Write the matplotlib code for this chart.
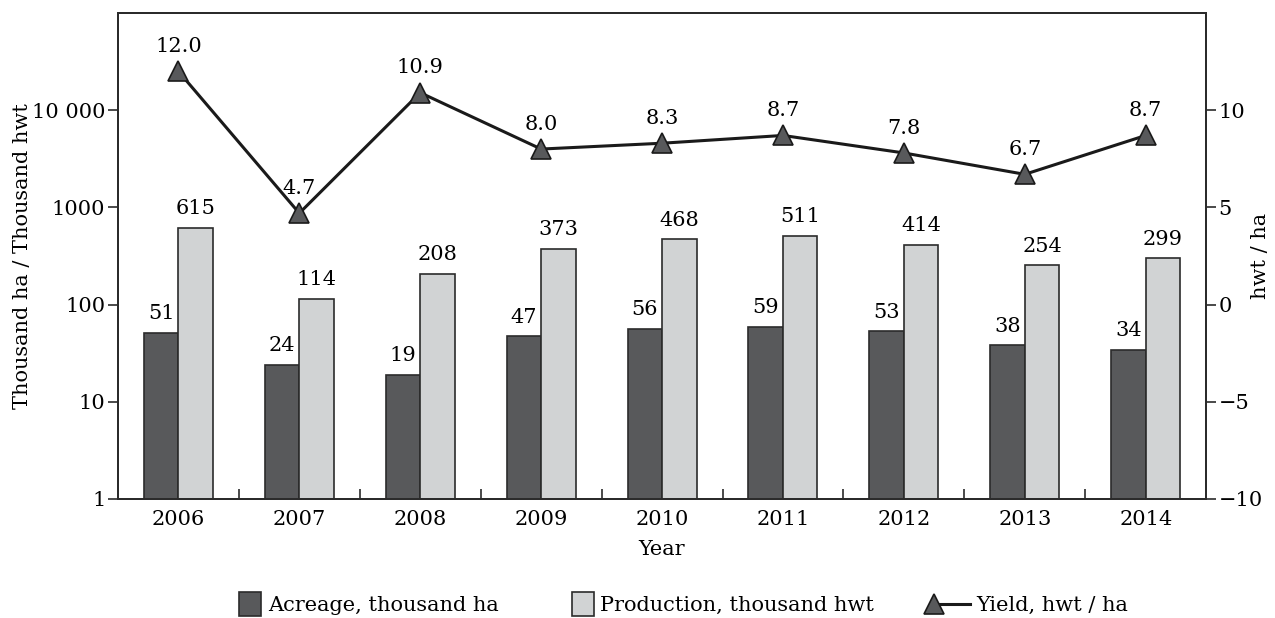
import numpy as np
import matplotlib
matplotlib.use("Agg")
from matplotlib import pyplot as plt
from matplotlib.ticker import FixedLocator, NullLocator, FuncFormatter
from matplotlib.legend_handler import HandlerBase
from matplotlib.lines import Line2D
from matplotlib.patches import Rectangle

years = ["2006", "2007", "2008", "2009", "2010", "2011", "2012", "2013", "2014"]
acreage = [51, 24, 19, 47, 56, 59, 53, 38, 34]
production = [615, 114, 208, 373, 468, 511, 414, 254, 299]
yield_vals = [12.0, 4.7, 10.9, 8.0, 8.3, 8.7, 7.8, 6.7, 8.7]

plt.rcParams["font.family"] = ["DejaVu Serif"]
plt.rcParams["font.size"] = 15

dark = "#58595b"
light = "#d1d3d4"
edge = "#2b2b2b"


class SquareHandler(HandlerBase):
    # square box drawn at the right end of the handle area
    def __init__(self, color):
        super().__init__()
        self.color = color

    def create_artists(self, legend, orig_handle, xdescent, ydescent, width, height,
                       fontsize, trans):
        side = 0.48 * width
        h = 1.25 * height
        r = Rectangle((-xdescent + width - side, -ydescent + (height - h) / 2), side, h,
                      facecolor=self.color, edgecolor=edge, linewidth=1.2,
                      transform=trans)
        return [r]


class TriLineHandler(HandlerBase):
    # triangle at the left, line running to the right
    def create_artists(self, legend, orig_handle, xdescent, ydescent, width, height,
                       fontsize, trans):
        y = -ydescent + height / 2
        x0 = -xdescent + 0.2 * width
        line = Line2D([x0, -xdescent + width], [y, y], color="#1a1a1a", linewidth=2.2,
                      transform=trans)
        mk = Line2D([x0], [y], marker="^", markersize=14, markerfacecolor=dark,
                    markeredgecolor="#1a1a1a", markeredgewidth=1.2, linestyle="none",
                    transform=trans)
        return [line, mk]


fig = plt.figure(figsize=(12.75, 6.18), dpi=100)
ax = fig.add_axes([0.0925, 0.1926, 0.8535, 0.7864])

x = np.arange(len(years))
w = 0.285
b1 = ax.bar(x - w / 2, acreage, w, color=dark, edgecolor=edge, linewidth=1.2,
            label="Acreage, thousand ha")
b2 = ax.bar(x + w / 2, production, w, color=light, edgecolor=edge, linewidth=1.2,
            label="Production, thousand hwt")
ax.set_yscale("log")
ax.set_ylim(1, 1e5)
ax.set_xlim(-0.5, len(years) - 0.5)

for xi, v in zip(x, acreage):
    ax.annotate(str(v), (xi - w / 2, v), xytext=(0, 7), textcoords="offset points",
                ha="center", va="bottom", fontsize=15)
for xi, v in zip(x, production):
    ax.annotate(str(v), (xi + w / 2, v), xytext=(0, 7), textcoords="offset points",
                ha="center", va="bottom", fontsize=15)

ax.yaxis.set_major_locator(FixedLocator([1, 10, 100, 1000, 10000]))
ax.yaxis.set_minor_locator(NullLocator())
ax.yaxis.set_major_formatter(FuncFormatter(
    lambda v, p: "10 000" if v >= 10000 else f"{int(round(v))}"))
ax.set_xticks(x)
ax.set_xticklabels(years)
ax.set_xticks(x[:-1] + 0.5, minor=True)
ax.tick_params(axis="x", which="major", length=0, pad=8)
ax.tick_params(axis="x", which="minor", direction="in", length=7, width=1.2, color=edge)
ax.tick_params(axis="y", which="major", direction="out", length=7, width=1.2,
               color=edge, pad=2)
ax.set_xlabel("Year", labelpad=8)
ax.set_ylabel("Thousand ha / Thousand hwt")
ax.yaxis.set_label_coords(-0.079, 0.5)
for s in ax.spines.values():
    s.set_color(edge)
    s.set_linewidth(1.4)

ax2 = ax.twinx()
ln, = ax2.plot(x, yield_vals, color="#1a1a1a", linewidth=2.2, marker="^",
               markersize=15, markerfacecolor=dark, markeredgecolor="#1a1a1a",
               markeredgewidth=1.2, label="Yield, hwt / ha")
ax2.set_ylim(-10, 15)
ax2.set_yticks([-10, -5, 0, 5, 10])
ax2.yaxis.set_major_formatter(FuncFormatter(
    lambda v, p: f"\u2212{abs(int(v))}" if v < 0 else f"{int(v)}"))
ax2.tick_params(axis="y", direction="out", length=7, width=1.2, color=edge, pad=2)
ax2.set_ylabel("hwt / ha")
ax2.yaxis.set_label_coords(1.041, 0.5)
for s in ax2.spines.values():
    s.set_color(edge)
    s.set_linewidth(1.4)
for xi, v in zip(x, yield_vals):
    ax2.annotate(f"{v:.1f}", (xi, v), xytext=(0, 11), textcoords="offset points",
                 ha="center", va="bottom", fontsize=15)

fig.legend(handles=[b1, b2, ln], loc="center", bbox_to_anchor=(0.527, 0.021),
           ncol=3, frameon=False, fontsize=15, handlelength=2.2, handleheight=1.0,
           columnspacing=2.4, handletextpad=0.3,
           handler_map={b1: SquareHandler(dark), b2: SquareHandler(light),
                        ln: TriLineHandler()})

fig.savefig("out.png", dpi=100)
